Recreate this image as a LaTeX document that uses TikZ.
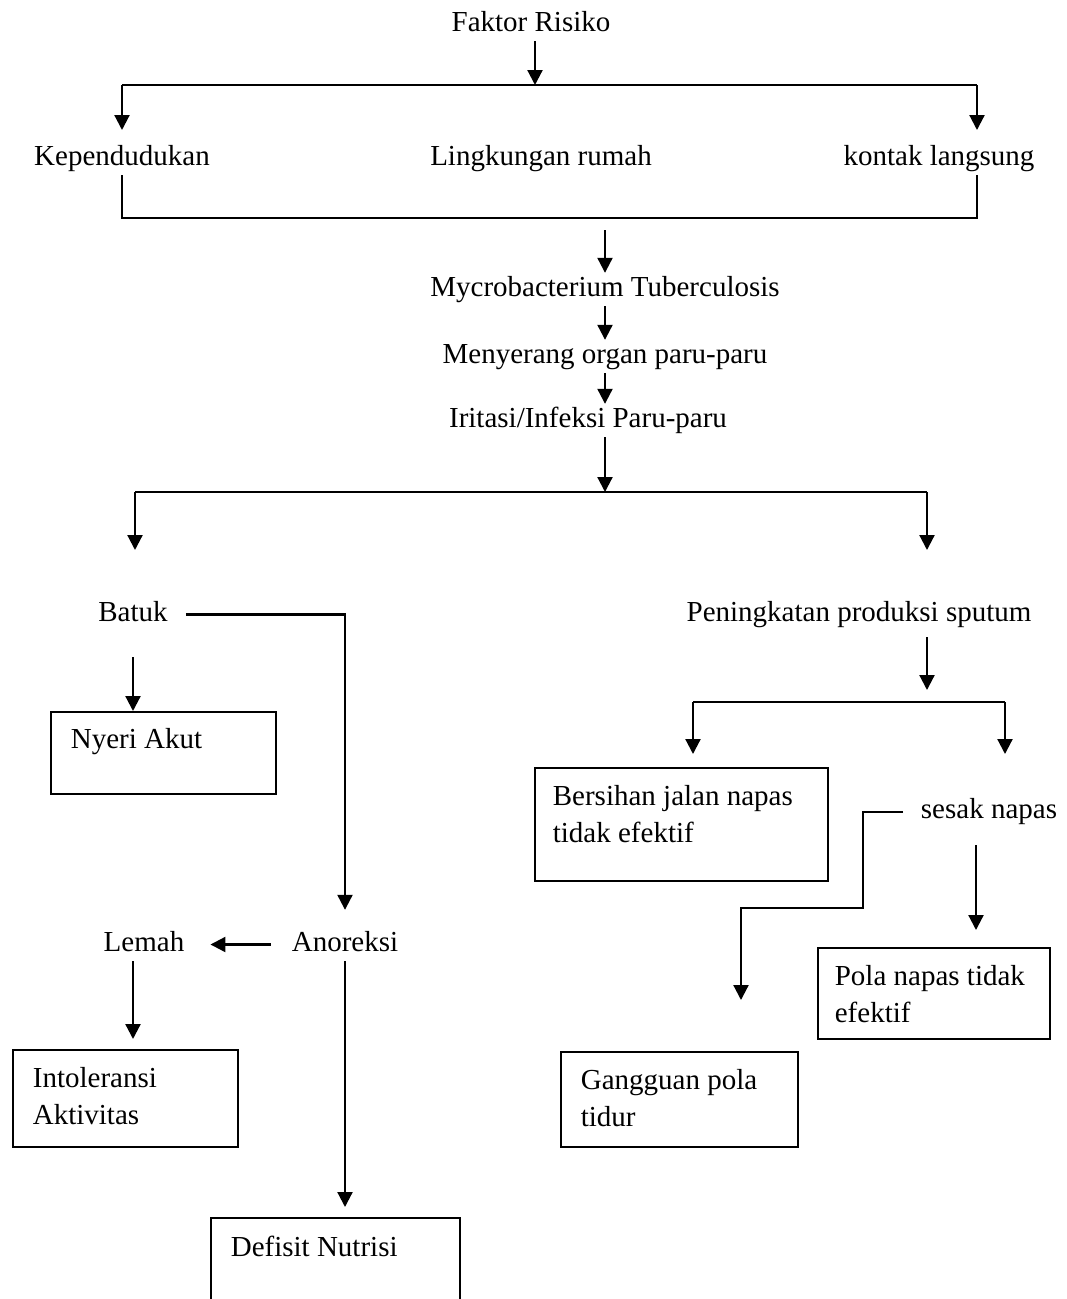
\documentclass[tikz,border=0pt]{standalone}
\usepackage{fontspec}
\setmainfont{Liberation Serif}
\usetikzlibrary{arrows.meta}

\tikzset{
  txt/.style = {font=\fontsize{29}{37}\selectfont, anchor=base, inner xsep=6pt, inner ysep=3pt,
                text height=20pt, text depth=7pt},
  diagbox/.style = {draw, line width=1.7pt, anchor=north west, align=flush left,
                    font=\fontsize{29}{37}\selectfont, inner xsep=20pt, inner ysep=0pt},
  conn/.style = {line width=2.2pt},
  arr/.style = {conn, -{Triangle[length=15pt,width=15pt]}}
}

\begin{document}
\begin{tikzpicture}[x=1pt, y=-1pt]
  \clip (0,0) rectangle (1066,1299);

  % faktor risiko
  \node [txt] (faktor) at (531,31) {Faktor Risiko};
  \node [txt] (kepend) at (122,165) {Kependudukan};
  \node [txt] (lingk) at (541,165) {Lingkungan rumah};
  \node [txt] (kontak) at (939,165) {kontak langsung};

  \coordinate (topC) at (535,85);
  \coordinate (topL) at (122,85);
  \coordinate (topR) at (977,85);
  \coordinate (kepIn) at (122,130);
  \coordinate (konIn) at (977,130);
  \draw [arr] (faktor.south -| topC) -- (topC);
  \draw [conn] (topL) -- (topR);
  \draw [arr] (topL) -- (kepIn);
  \draw [arr] (topR) -- (konIn);

  \coordinate (botL) at (122,218);
  \coordinate (botR) at (977,218);
  \draw [conn] (kepend.south) -- (botL) -- (botR) -- (botR |- kontak.south);

  % jalur utama
  \node [txt] (myco) at (605,296) {Mycrobacterium Tuberculosis};
  \node [txt] (menyerang) at (605,363) {Menyerang organ paru-paru};
  \node [txt] (iritasi) at (588,427) {Iritasi/Infeksi Paru-paru};

  \coordinate (mycoOut) at (605,230);
  \draw [arr] (mycoOut) -- (mycoOut |- myco.north);
  \draw [arr] (myco) -- (menyerang);
  \draw [arr] (menyerang) -- (menyerang |- iritasi.north);

  \coordinate (midC) at (605,492);
  \coordinate (midL) at (135,492);
  \coordinate (midR) at (927,492);
  \coordinate (batukIn) at (135,550);
  \coordinate (sputIn) at (927,550);
  \draw [arr] (iritasi.south -| midC) -- (midC);
  \draw [conn] (midL) -- (midR);
  \draw [arr] (midL) -- (batukIn);
  \draw [arr] (midR) -- (sputIn);

  % cabang kiri
  \node [txt] (batuk) at (133,621) {Batuk};
  \node [txt] (anoreksi) at (345,951) {Anoreksi};
  \node [txt] (lemah) at (144,951) {Lemah};

  \node [diagbox, text width=185pt, text height=37pt, text depth=45pt] (nyeri) at (50,711) {Nyeri Akut};
  \node [diagbox, text width=185pt, text height=38pt, text depth=59pt] (intol) at (12,1049) {Intoleransi\\Aktivitas};
  \node [diagbox, text width=209pt, text height=39pt, text depth=70pt] (defisit) at (210,1217) {Defisit Nutrisi};

  \draw [arr, shorten <=12pt, shorten >=18pt] (batuk.east) -| (anoreksi.north);
  \draw [arr, shorten <=26pt] (batuk.south) -- (batuk.south |- nyeri.north);
  \draw [arr, shorten <=15pt, shorten >=20pt] (anoreksi.west) -- (lemah.east);
  \draw [arr, shorten >=10pt] (lemah.south -| batuk) -- (batuk |- intol.north);
  \draw [arr, shorten >=10pt] (anoreksi) -- (anoreksi |- defisit.north);

  % cabang kanan
  \node [txt] (sputum) at (859,621) {Peningkatan produksi sputum};
  \node [txt] (sesak) at (989,818) {sesak napas};

  \node [diagbox, inner xsep=18pt, text width=257pt, text height=38pt, text depth=75pt] (bersihan) at (534,767) {Bersihan jalan napas\\tidak efektif};
  \node [diagbox, inner xsep=17pt, text width=198pt, text height=38pt, text depth=53pt] (pola) at (817,947) {Pola napas tidak\\efektif};
  \node [diagbox, text width=197pt, text height=38pt, text depth=57pt] (gangguan) at (560,1051) {Gangguan pola\\tidur};

  \coordinate (sputOut) at (927,637);
  \coordinate (rbC) at (927,702);
  \coordinate (rbL) at (693,702);
  \coordinate (rbR) at (1005,702);
  \coordinate (bersIn) at (693,754);
  \coordinate (sesIn) at (1005,754);
  \draw [arr, shorten >=12pt] (sputOut) -- (rbC);
  \draw [conn] (rbL) -- (rbR);
  \draw [arr] (rbL) -- (bersIn);
  \draw [arr] (rbR) -- (sesIn);

  \coordinate (sesOut) at (903,812);
  \coordinate (sk1) at (863,908);
  \coordinate (gangIn) at (741,1000);
  \coordinate (polaOut) at (976,845);
  \draw [arr] (sesOut) -| (sk1) -| (gangIn);
  \draw [arr, shorten >=17pt] (polaOut) -- (polaOut |- pola.north);
\end{tikzpicture}
\end{document}
